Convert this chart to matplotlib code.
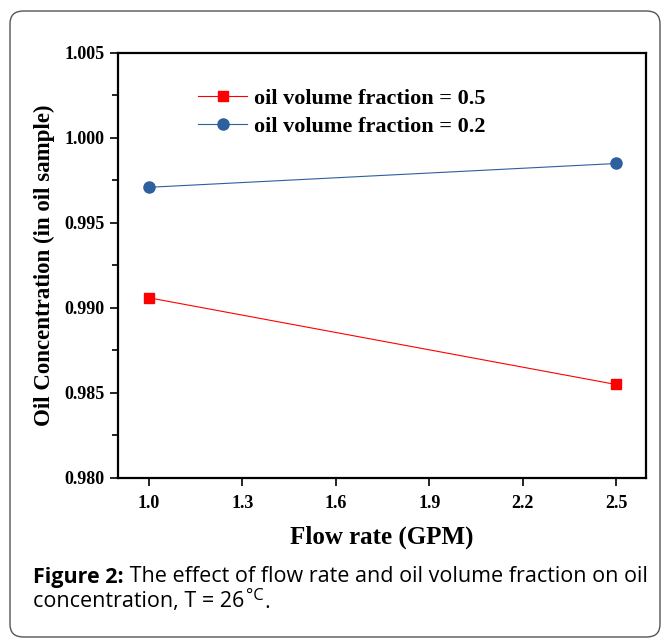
import matplotlib
matplotlib.use('Agg')
import matplotlib.pyplot as plt
from matplotlib.patches import FancyBboxPatch
from matplotlib.ticker import MultipleLocator

flow_rate = [1.0, 2.5]
frac_05 = [0.9906, 0.9855]
frac_02 = [0.9971, 0.9985]
x_ticks = [1.0, 1.3, 1.6, 1.9, 2.2, 2.5]
y_ticks = [0.980, 0.985, 0.990, 0.995, 1.000, 1.005]

serif = 'Liberation Serif'
W, H = 668, 639

fig = plt.figure(figsize=(W / 100, H / 100), dpi=100)

# rounded frame around the figure
frame = FancyBboxPatch((10 / W, 1 - 637 / H), 650 / W, 626 / H,
                       boxstyle='round,pad=0,rounding_size=0.02',
                       transform=fig.transFigure, fill=False,
                       edgecolor='#555555', linewidth=1.0)
fig.patches.append(frame)

ax = fig.add_axes([118 / W, 1 - 478 / H, 528 / W, 425 / H])

ax.plot(flow_rate, frac_05, color='#ff0000', lw=0.8, marker='s', ms=7,
        label='oil volume fraction = 0.5')
ax.plot(flow_rate, frac_02, color='#2e5f9e', lw=0.8, marker='o', ms=8,
        label='oil volume fraction = 0.2')

ax.set_xlim(0.9004, 2.596)
ax.set_ylim(0.980, 1.005)
ax.set_xticks(x_ticks)
ax.set_xticklabels(['%.1f' % v for v in x_ticks])
ax.set_yticks(y_ticks)
ax.set_yticklabels(['%.3f' % v for v in y_ticks])
ax.yaxis.set_minor_locator(MultipleLocator(0.0025))
ax.tick_params(axis='both', which='major', direction='out', length=6, width=1.2)
ax.tick_params(axis='y', which='minor', direction='out', length=4, width=1.2)
ax.tick_params(axis='x', pad=6)
for lab in ax.get_xticklabels() + ax.get_yticklabels():
    lab.set_fontfamily(serif)
    lab.set_fontweight('bold')
    lab.set_fontsize(13)
for sp in ax.spines.values():
    sp.set_linewidth(1.6)

ax.set_xlabel('Flow rate (GPM)', fontfamily=serif, fontweight='bold',
              fontsize=18, labelpad=10)
ax.set_ylabel('Oil Concentration (in oil sample)', fontfamily=serif,
              fontweight='bold', fontsize=16.5, labelpad=7)

ax.legend(loc='upper left', bbox_to_anchor=(0.135, 0.938), frameon=False,
          prop={'family': serif, 'weight': 'bold', 'size': 16},
          handlelength=2.2, handletextpad=0.3, labelspacing=0.33,
          borderaxespad=0)

# caption, pieces placed one after another
fs = 15.5
fig.canvas.draw()
r = fig.canvas.get_renderer()
y1 = 1 - 577 / H
y2 = 1 - 602 / H
t = fig.text(33 / W, y1, 'Figure 2:', fontfamily='Open Sans',
             fontweight='bold', fontsize=fs, va='center', ha='left')
x = t.get_window_extent(r).x1 / W
fig.text(x, y1, ' The effect of flow rate and oil volume fraction on oil',
         fontfamily='Open Sans', fontsize=fs, va='center', ha='left')
t = fig.text(33 / W, y2, 'concentration, T = 26', fontfamily='Open Sans',
             fontsize=fs, va='center', ha='left')
x = t.get_window_extent(r).x1 / W
t = fig.text(x + 2 / W, y2 + 6 / H, '\u00b0C', fontfamily='Open Sans',
             fontsize=12, va='center', ha='left')
x = t.get_window_extent(r).x1 / W
fig.text(x, y2, '.', fontfamily='Open Sans', fontsize=fs, va='center', ha='left')

fig.savefig('out.png', dpi=100)
